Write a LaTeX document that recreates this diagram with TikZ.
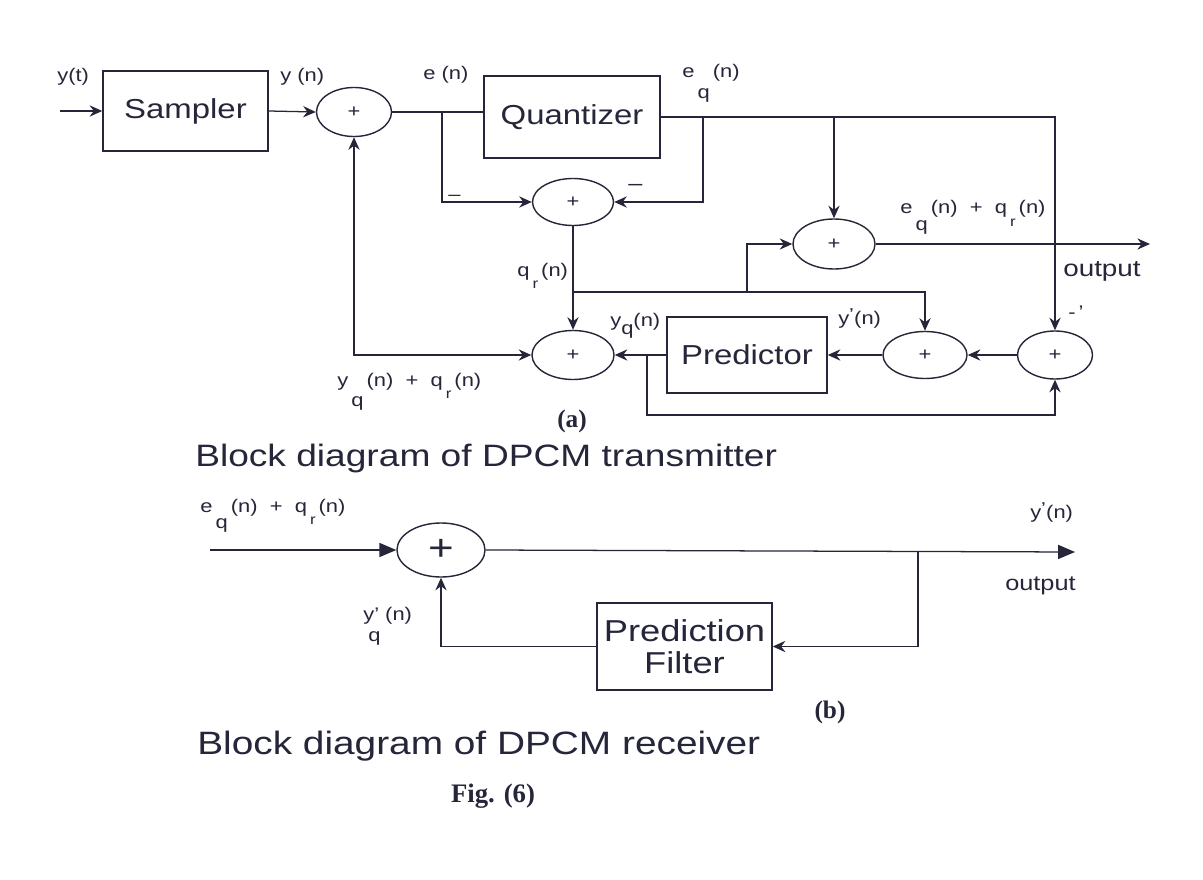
\documentclass[tikz,border=0pt]{standalone}
\usepackage{fontspec}
\setmainfont{Liberation Sans}[FakeStretch=1.2]
\newfontfamily\serifbf{Liberation Serif}[Scale=1]
\usetikzlibrary{arrows.meta,shapes.geometric}
\definecolor{ink}{RGB}{38,38,58}
\newcommand\lsub[2][-0.85em]{\raisebox{#1}{#2}}
\newcommand\fs[1]{\fontsize{#1}{#1}\selectfont}
\begin{document}
\begin{tikzpicture}[x=0.025cm,y=-0.025cm,
  blk/.style={draw=ink, line width=1pt, rectangle, inner sep=0pt, text=ink},
  sumn/.style={draw=ink, line width=1pt, ellipse, inner sep=0pt, text=ink, font=\fs{13}},
  wire/.style={draw=ink, line width=0.9pt},
  arr/.style={wire, -{Stealth[length=9pt,width=8pt,inset=3pt]}},
  dbl/.style={wire, {Stealth[length=9pt,width=8pt,inset=3pt]}-{Stealth[length=9pt,width=8pt,inset=3pt]}},
  tarr/.style={wire, -{Triangle[length=12pt,width=10pt]}},
  lbl/.style={inner sep=0pt, text=ink, font=\fs{13}, anchor=base west},
  ttl/.style={inner sep=0pt, text=ink, anchor=base west},
  sbf/.style={inner sep=0pt, text=ink, font=\serifbf\bfseries\fs{18}}]
\useasboundingbox (0,0) rectangle (1203,880);
\fill[white] (0,0) rectangle (1203,880);

% ---------- transmitter ----------
\node[blk, minimum width=4.125cm, minimum height=2cm, font=\fs{19.5}] (samp) at (185.5,111) {Sampler};
\node[blk, minimum width=4.4cm, minimum height=2.05cm, font=\fs{19.5}] (quant) at (572,117) {Quantizer};
\node[blk, minimum width=4cm, minimum height=1.9cm, font=\fs{19.5}] (pred) at (747,355) {Predictor};

\node[sumn, minimum width=1.875cm, minimum height=1.225cm] (s1) at (354,112) {+};
\node[sumn, minimum width=2.025cm, minimum height=1.175cm] (s2) at (573,202) {+};
\node[sumn, minimum width=2.05cm, minimum height=1.25cm] (s3) at (834,244) {+};
\node[sumn, minimum width=2.05cm, minimum height=1.225cm] (s4) at (573,355) {+};
\node[sumn, minimum width=2.1cm, minimum height=1.175cm] (s5) at (925,355) {+};
\node[sumn, minimum width=1.875cm, minimum height=1.2cm] (s6) at (1055,355) {+};

\coordinate (in) at (60,111);
\coordinate (j1) at (442,112);
\coordinate (j2) at (703,117);
\coordinate (j3) at (834,117);
\coordinate (j4) at (573,292);
\coordinate (j5) at (747,292);
\coordinate (j6) at (647,355);
\coordinate (b6) at (1055,415);
\coordinate (out1) at (1150,244);

\draw[arr] (in) -- (samp.west);
\draw[arr] (samp.east) -- (s1.west);
\draw[wire] (s1.east) -- (s1.east -| quant.west);
\draw[arr] (j1) |- (s2.west);
\draw[arr] (quant.east) -| (s6.north);
\draw[arr] (j2) |- (s2.east);
\draw[arr] (j3) -- (s3.north);
\draw[arr] (s2.south) -- (s4.north);
\draw[arr] (j4) -| (s5.north);
\draw[arr] (j5) |- (s3.west);
\draw[arr] (s3.east) -- (out1);
\draw[arr] (s6.west) -- (s5.east);
\draw[arr] (s5.west) -- (pred.east);
\draw[arr] (pred.west) -- (s4.east);
\draw[arr] (j6) |- (b6) -- (s6.south);
\draw[dbl] (s4.west) -| (s1.south);

% labels
\node[lbl] (lyt) at (57,82) {y(t)};
\node[lbl] (lyn) at (280,82) {y (n)};
\node[lbl] (len) at (423,80) {e (n)};
\node[lbl] (leq) at (682,78) {e\,\lsub[-1.1em]{q}\,(n)};
\node[lbl] (lm1) at (628,190) {\fs{15}\textendash};
\node[lbl] (lm2) at (448,200) {\textendash};
\node[lbl] (lqr) at (517,276) {q\,\lsub[-0.7em]{\fs{10}r}\,(n)};
\node[lbl] (lsum) at (900,214) {e\,\lsub[-0.9em]{q}\,(n) \ + \ q\,\lsub[-0.7em]{\fs{10}r}\,(n)};
\node[lbl, font=\fs{16.5}] (lout1) at (1063,276) {output};
\node[lbl] (lyq) at (610,326) {y\lsub[-0.45em]{q}(n)};
\node[lbl] (lyd) at (838,324) {y\textsuperscript{\textbf{'}}(n)};
\node[lbl] (lm3) at (1068,318) {-\,'};
\node[lbl] (lyqr) at (337,386) {y\,\lsub[-1.1em]{q}\,(n) \ + \ q\,\lsub[-0.7em]{\fs{10}r}\,(n)};
\node[sbf] (la) at (572,421) {(a)};
\node[ttl, font=\fs{22}] (t1) at (195,466) {Block diagram of DPCM transmitter};

% ---------- receiver ----------
\node[sumn, minimum width=2.2cm, minimum height=1.35cm, font=\fs{26}] (sr) at (441,550) {+};
\node[blk, minimum width=4.375cm, minimum height=2.175cm, align=center, font=\fs{21.5}] (pf) at (684.5,646.5) {Prediction\\[1pt]Filter};
\coordinate (in2) at (210,550);
\coordinate (out2) at (1075,552);
\coordinate (j7) at (918,551);
\draw[tarr] (in2) -- (sr.west);
\draw[tarr] (sr.east) -- (out2);
\draw[arr] (j7) |- (pf.east);
\draw[arr] (pf.west) -| (sr.south);

\node[lbl] (lrin) at (200,512) {e\,\lsub[-0.9em]{q}\,(n) \ + \ q\,\lsub[-0.7em]{\fs{10}r}\,(n)};
\node[lbl] (lyp) at (363,620) {y' (n)};
\node[lbl] (lypq) at (368,641) {q};
\node[lbl] (lyd2) at (1030,518) {y\textsuperscript{\textbf{'}}(n)};
\node[lbl, font=\fs{15}] (lout2) at (1005,590) {output};
\node[sbf] (lb) at (830,712) {(b)};
\node[ttl, font=\fs{23}] (t2) at (197,754) {Block diagram of DPCM receiver};
\node[sbf, font=\serifbf\bfseries\fs{19}] (fig) at (493,796) {Fig. (6)};
\end{tikzpicture}
\end{document}
